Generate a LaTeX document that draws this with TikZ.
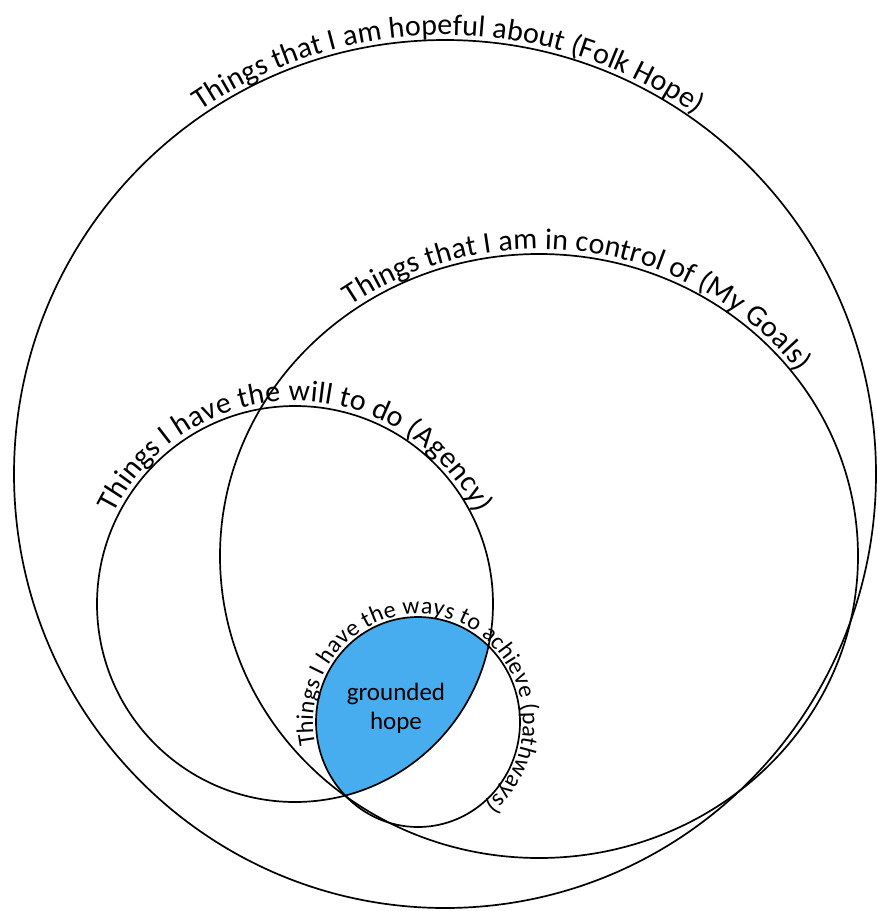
\documentclass[tikz,border=0pt]{standalone}
\usepackage{fontspec}
\setmainfont{Carlito}
\usepackage{tikz}
\usetikzlibrary{decorations.text}

\definecolor{hopeblue}{RGB}{71,173,238}
\newcommand{\ringfont}{\fontsize{30}{36}\selectfont}
\newcommand{\waysfont}{\fontsize{24}{29}\selectfont}

\begin{document}
\begin{tikzpicture}[x=1pt, y=-1pt,
  ring/.style={line width=1.7pt},
  curved/.style={decorate, decoration={text along path, text align=center, raise=#1}}]
\useasboundingbox (0,0) rectangle (878,911);

% centres of the four sets
\coordinate (folk) at (445,474);
\coordinate (goals) at (539,556);
\coordinate (agency) at (295,604);
\coordinate (ways) at (418,722);

% grounded hope = will and ways
\begin{scope}
\clip (agency) circle[radius=198];
\fill[hopeblue] (ways) ellipse[x radius=102, y radius=105];
\end{scope}

\draw[ring] (folk) ellipse[x radius=431, y radius=434];
\draw[ring] (goals) ellipse[x radius=319, y radius=302];
\draw[ring] (agency) circle[radius=198];
\draw[ring] (ways) ellipse[x radius=102, y radius=105];

% labels along the rims
\path[shift={(folk)}, curved=5pt, decoration={text={|\ringfont|Things that I am hopeful about (Folk Hope)}}]
  (225:431 and 434) arc[start angle=225, end angle=316, x radius=431, y radius=434];
\path[shift={(goals)}, curved=5pt, decoration={text={|\ringfont|Things that I am in control of (My Goals)}}]
  (220:319 and 302) arc[start angle=220, end angle=338, x radius=319, y radius=302];
\path[shift={(agency)}, curved=5pt, decoration={text={|\ringfont|Things I have the will to do (Agency)}}]
  (195:198) arc[start angle=195, end angle=345, radius=198];
\path[shift={(ways)}, curved=3pt, decoration={text={|\waysfont|Things I have the ways to achieve (pathways)}}]
  (150:102 and 105) arc[start angle=150, end angle=428, x radius=102, y radius=105];

\node[font=\fontsize{25}{29}\selectfont, align=center] (gh) at (396,708) {grounded\\hope};
\end{tikzpicture}
\end{document}
